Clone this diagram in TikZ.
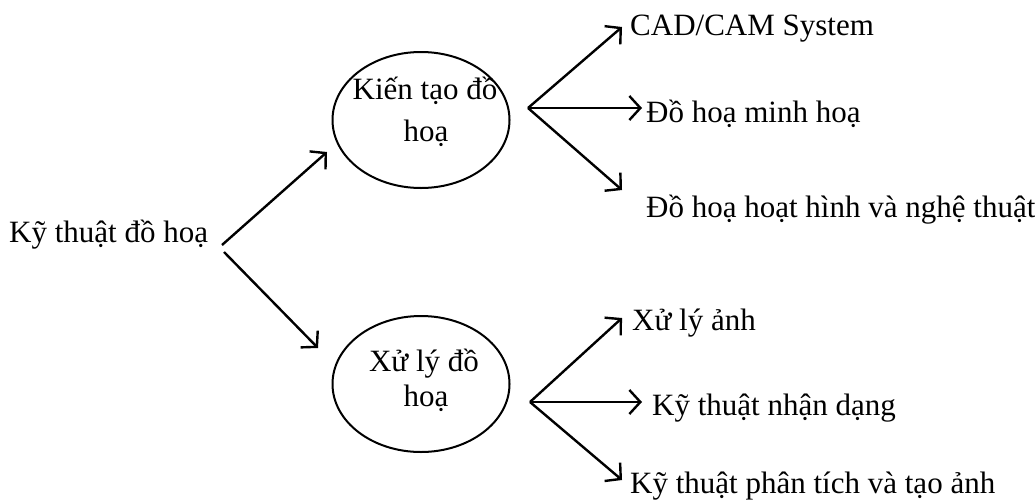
\documentclass[tikz,border=0pt]{standalone}
\usepackage{fontspec}
\setmainfont{Liberation Serif}
\usetikzlibrary{arrows.meta,shapes.geometric}
\begin{document}
\begin{tikzpicture}[x=1pt,y=-1pt,
  lbl/.style={inner sep=0pt,anchor=base west,font=\fontsize{31}{36}\selectfont},
  ctr/.style={inner sep=0pt,anchor=base,font=\fontsize{31}{36}\selectfont},
  oval/.style={draw,line width=2pt,ellipse,minimum width=177pt,minimum height=136pt,inner sep=0pt},
  conn/.style={line width=2.4pt,-{Straight Barb[length=11pt,width=24pt]}}]
\useasboundingbox (0,0) rectangle (1035,501);
% root
\node[lbl] (root) at (9,242) {Kỹ thuật đồ hoạ};
\coordinate (r1) at (222,245);
\coordinate (r2) at (224,252);
% ellipses
\node[oval] (e1) at (421,120) {};
\node[oval] (e2) at (421,384) {};
\node[ctr] (e1a) at (425,99) {Kiến tạo đồ};
\node[ctr] (e1b) at (426,141) {hoạ};
\node[ctr] (e2a) at (424,371) {Xử lý đồ};
\node[ctr] (e2b) at (426,406) {hoạ};
\coordinate (t1) at (327,152);
\coordinate (t2) at (318,348);
\draw[conn] (r1) -- (t1);
\draw[conn] (r2) -- (t2);
% fan 1
\coordinate (f1) at (528,108);
\node[lbl] (a1) at (630,35) {CAD/CAM System};
\node[lbl] (a2) at (646,122) {Đồ hoạ minh hoạ};
\node[lbl] (a3) at (646,217) {Đồ hoạ hoạt hình và nghệ thuật};
\coordinate (a1t) at (622,27);
\coordinate (a2t) at (642,108);
\coordinate (a3t) at (622,190);
\draw[conn] (f1) -- (a1t);
\draw[conn] (f1) -- (a2t);
\draw[conn] (f1) -- (a3t);
% fan 2
\coordinate (f2) at (530,402);
\node[lbl] (b1) at (632,330) {Xử lý ảnh};
\node[lbl] (b2) at (652,415) {Kỹ thuật nhận dạng};
\node[lbl] (b3) at (630,493) {Kỹ thuật phân tích và tạo ảnh};
\coordinate (b1t) at (622,318);
\coordinate (b2t) at (642,402);
\coordinate (b3t) at (622,480);
\draw[conn] (f2) -- (b1t);
\draw[conn] (f2) -- (b2t);
\draw[conn] (f2) -- (b3t);
\end{tikzpicture}
\end{document}
